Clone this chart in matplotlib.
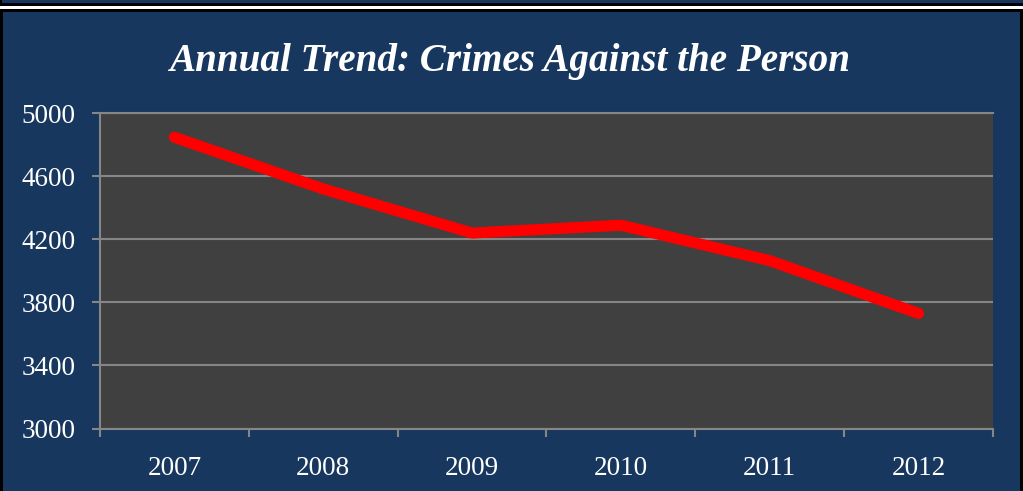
import matplotlib
matplotlib.use("Agg")
import matplotlib.pyplot as plt
from matplotlib.patches import Rectangle

# data
years = ["2007", "2008", "2009", "2010", "2011", "2012"]
crimes = [4848, 4520, 4240, 4290, 4065, 3730]
y_ticks = [3000, 3400, 3800, 4200, 4600, 5000]

W, H = 1023, 491
navy = "#17375e"
plot_bg = "#404040"
grid_col = "#868686"

plt.rcParams["font.family"] = ["Liberation Serif", "DejaVu Serif"]

fig = plt.figure(figsize=(W / 100, H / 100), dpi=100, facecolor=navy)

def px_rect(x0, y0, x1, y1, color):
    # pixel box measured from top-left corner
    fig.patches.append(Rectangle((x0 / W, 1 - y1 / H), (x1 - x0) / W, (y1 - y0) / H,
                                 transform=fig.transFigure, facecolor=color,
                                 edgecolor="none", zorder=0))

# frame lines like the slide border
px_rect(0, 0, 2, 6, "black")
px_rect(0, 3, W, 6, "black")
px_rect(0, 6, W, 9, "white")
px_rect(0, 9, W, 12, "black")
px_rect(0, 9, 3, H, "black")
px_rect(1020, 9, W, H, "black")

ax = fig.add_axes([100 / W, 1 - 428.5 / H, 893 / W, 315.2 / H])
ax.set_facecolor(plot_bg)

x = list(range(len(years)))
ax.plot(x, crimes, color="#ff0000", linewidth=8, solid_capstyle="round",
        solid_joinstyle="round", zorder=3)

ax.set_xlim(-0.5, len(years) - 0.5)
ax.set_ylim(3000, 5000)
ax.set_yticks(y_ticks)
ax.set_yticklabels([str(v) for v in y_ticks])
ax.set_xticks(x)
ax.set_xticklabels(years)
ax.set_xticks([i - 0.5 for i in range(len(years) + 1)], minor=True)

ax.grid(axis="y", color=grid_col, linewidth=1.5, zorder=1)
ax.set_axisbelow(True)

ax.spines["right"].set_visible(False)
for side in ["left", "bottom", "top"]:
    ax.spines[side].set_color(grid_col)
    ax.spines[side].set_linewidth(1.5)

ax.tick_params(axis="y", colors="white", labelsize=19.5, length=6, width=1.5,
               color=grid_col, pad=11.5)
ax.tick_params(axis="x", which="major", colors="white", labelsize=19.5, length=0, pad=19.5)
ax.tick_params(axis="x", which="minor", length=6, width=1.5, color=grid_col)

fig.text(0.4985, 1 - 61 / H, "Annual Trend: Crimes Against the Person", color="white",
         fontsize=28.2, fontweight="bold", fontstyle="italic", ha="center", va="center")

fig.savefig("out.png", dpi=100, facecolor=navy)
